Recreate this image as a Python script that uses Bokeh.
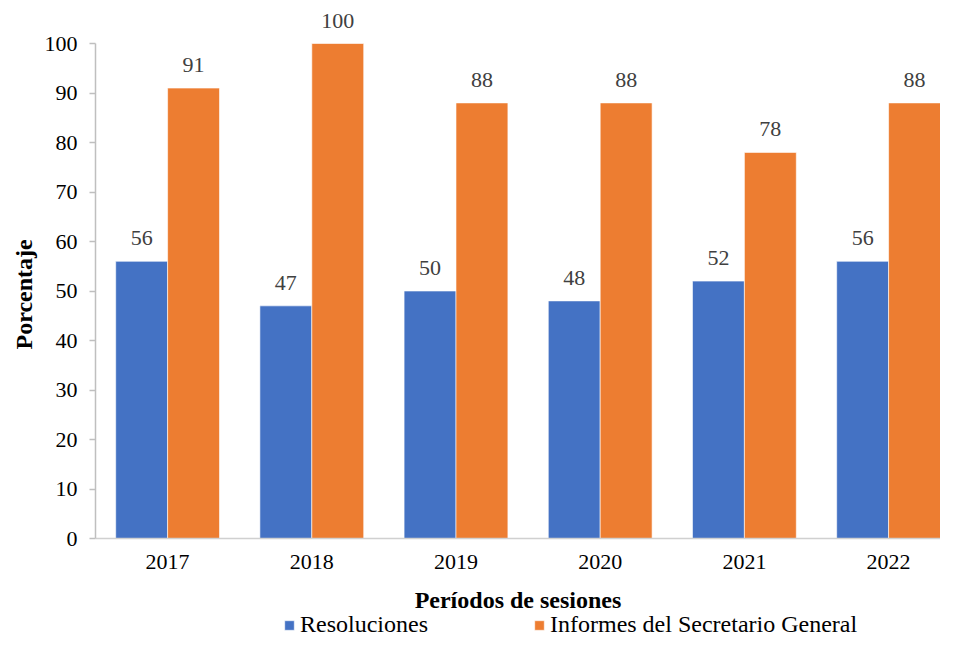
from bokeh.plotting import figure
from bokeh.models import Range1d, FixedTicker, Legend, LegendItem, ColumnDataSource, Title
from bokeh.core.properties import value
from bokeh.embed import file_html
from bokeh.resources import INLINE

years = ["2017", "2018", "2019", "2020", "2021", "2022"]
resoluciones = [56, 47, 50, 48, 52, 56]
informes = [91, 100, 88, 88, 78, 88]
series_names = ["Resoluciones", "Informes del Secretario General"]
y_ticks = [0, 10, 20, 30, 40, 50, 60, 70, 80, 90, 100]
y_title = "Porcentaje"
x_title = "Períodos de sesiones"

BLUE = "#4472C4"
ORANGE = "#ED7D31"
FONT = "Liberation Serif"
BAR_W = 0.36

W, H = 940, 638
TOP_PX, ZERO_PX = 43, 538          # pixel rows of y=100 and y=0
px_per_unit = (ZERO_PX - TOP_PX) / 100.0
y_start = -(H - ZERO_PX) / px_per_unit
y_end = 100 + TOP_PX / px_per_unit

idx = list(range(len(years)))
src_a = ColumnDataSource(dict(x=[i - BAR_W / 2 for i in idx], y=resoluciones,
                              lab=[str(v) for v in resoluciones]))
src_b = ColumnDataSource(dict(x=[i + BAR_W / 2 for i in idx], y=informes,
                              lab=[str(v) for v in informes]))

p = figure(width=W, height=H, output_backend="svg", toolbar_location=None,
           x_range=Range1d(-0.5, len(years) - 1 + BAR_W),
           y_range=Range1d(y_start, y_end),
           min_border_left=95, min_border_right=0, min_border_top=0,
           min_border_bottom=0)
p.outline_line_color = None
p.xgrid.grid_line_color = None
p.ygrid.grid_line_color = None
p.background_fill_color = "white"
p.border_fill_color = "white"

r1 = p.vbar(x="x", top="y", width=BAR_W, source=src_a, fill_color=BLUE,
            line_color="white", line_width=0.6)
r2 = p.vbar(x="x", top="y", width=BAR_W, source=src_b, fill_color=ORANGE,
            line_color="white", line_width=0.6)

for s in (src_a, src_b):
    p.text(x="x", y="y", text="lab", source=s, text_align="center",
           text_baseline="alphabetic", y_offset=-23,
           text_font=value(FONT), text_font_size="22px", text_color="#404040")

# x axis, pinned at y = 0
xa = p.xaxis[0]
xa.fixed_location = 0
xa.ticker = FixedTicker(ticks=idx)
xa.major_label_overrides = {i: y for i, y in zip(idx, years)}
xa.major_tick_out = 0
xa.major_tick_in = 0
xa.minor_tick_out = 0
xa.minor_tick_in = 0
xa.axis_line_color = "#d0d0d0"
xa.axis_line_width = 1.5
xa.major_label_text_font = FONT
xa.major_label_text_font_size = "22px"
xa.major_label_text_color = "#000000"
xa.major_label_standoff = 16
xa.axis_label = x_title
xa.axis_label_text_font = FONT
xa.axis_label_text_font_style = "bold"
xa.axis_label_text_font_size = "24px"
xa.axis_label_text_color = "#000000"
xa.axis_label_standoff = 15

# y axis
ya = p.yaxis[0]
ya.bounds = (0, 100)
ya.ticker = FixedTicker(ticks=y_ticks)
ya.major_tick_out = 6
ya.major_tick_in = 0
ya.minor_tick_out = 0
ya.minor_tick_in = 0
ya.major_tick_line_color = "#bfbfbf"
ya.major_tick_line_width = 1.5
ya.axis_line_color = "#bfbfbf"
ya.axis_line_width = 1.5
ya.major_label_text_font = FONT
ya.major_label_text_font_size = "22px"
ya.major_label_text_color = "#000000"
ya.major_label_standoff = 12

ytitle = Title(text=y_title, align="left", offset=H - 349,
               text_font=FONT, text_font_style="bold", text_font_size="24px",
               text_color="#000000", standoff=10)
p.add_layout(ytitle, "left")

legend = Legend(items=[LegendItem(label=series_names[0], renderers=[r1]),
                       LegendItem(label=series_names[1], renderers=[r2])],
                orientation="horizontal", location=(188, 0),
                glyph_width=12, glyph_height=12, label_standoff=5, spacing=105,
                padding=0, margin=0, border_line_color=None,
                background_fill_alpha=0,
                label_text_font=FONT, label_text_font_size="24px",
                label_text_color="#000000")
p.add_layout(legend, "center")

open("out.html", "w").write(file_html(p, INLINE))
